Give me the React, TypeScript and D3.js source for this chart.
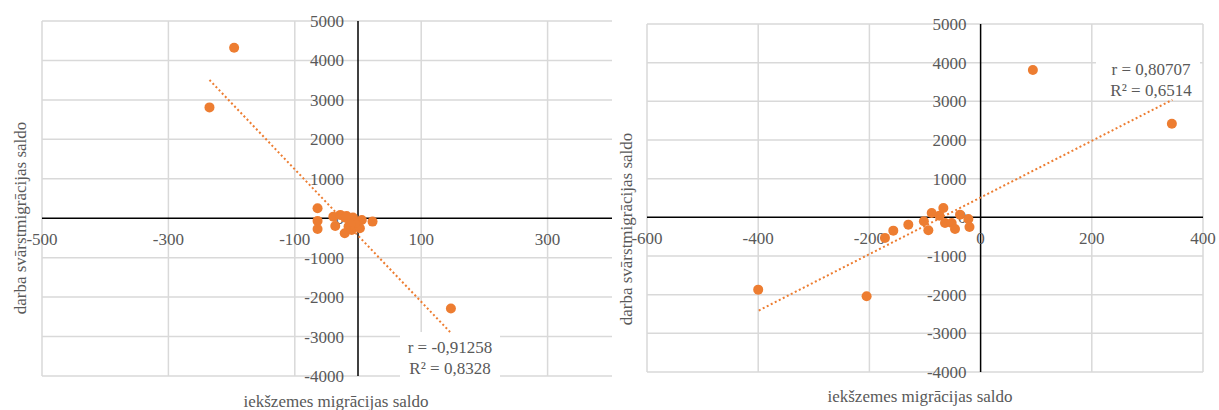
import * as d3 from 'd3';
import { useEffect, useRef } from 'react';

// kreisais grafiks
const leftX = [-196, -235, 147, -64, -64, -64, -39, -36, -28, -18, -13, -15, -21, -10, 6, 3, 23, -8, -5, -12, -20];
const leftY = [4320, 2810, -2290, 253, -68, -271, 40, -195, 84, 58, -43, -213, -380, -296, -43, -253, -86, 20, -120, -150, 10];
const leftTrendX = [-235, 146];
const leftTrendY = [3505, -2890];
const leftXTicks = [-500, -300, -100, 100, 300, 500];
const leftLabels = ['r = -0,91258', 'R² = 0,8328'];

// labais grafiks
const rightX = [94, 344, -400, -205, -172, -157, -130, -102, -94, -88, -74, -67, -64, -52, -46, -37, -22, -20];
const rightY = [3810, 2420, -1870, -2040, -532, -344, -189, -103, -336, 114, 44, 243, -145, -145, -300, 70, -41, -248];
const rightTrendX = [-399, 345];
const rightTrendY = [-2410, 3040];
const rightXTicks = [-600, -400, -200, 0, 200, 400];
const rightLabels = ['r = 0,80707', 'R² = 0,6514'];

const yTicks = [5000, 4000, 3000, 2000, 1000, 0, -1000, -2000, -3000, -4000];

const xTitle = 'iekšzemes migrācijas saldo';
const yTitle = 'darba svārstmigrācijas saldo';

const orange = '#ED7D31';
const grey = '#595959';
const font = '"Liberation Serif", "Times New Roman", serif';

function App() {
    const ref = useRef(null);

    useEffect(() => {
        document.body.style.margin = '0';
        const svg = d3.select(ref.current);
        svg.selectAll('*').remove();

        const clip = svg.append('defs').append('clipPath').attr('id', 'leftClip');
        clip.append('rect').attr('x', 0).attr('y', 0).attr('width', 612).attr('height', 410);

        function drawChart(g, cfg) {
            const x = d3.scaleLinear().domain(cfg.xDomain).range(cfg.xRange);
            const y = d3.scaleLinear().domain([5000, -4000]).range(cfg.yRange);
            const [x0, x1] = cfg.xRange;
            const [y0, y1] = cfg.yRange;

            // režģis
            g.selectAll('.hgrid').data(yTicks.filter(d => d !== 0)).join('line')
                .attr('x1', x0).attr('x2', x1)
                .attr('y1', d => y(d)).attr('y2', d => y(d))
                .attr('stroke', '#d9d9d9').attr('stroke-width', 1.5);
            g.selectAll('.vgrid').data(cfg.xTicks.filter(d => d !== 0)).join('line')
                .attr('x1', d => x(d)).attr('x2', d => x(d))
                .attr('y1', y0).attr('y2', y1)
                .attr('stroke', '#d9d9d9').attr('stroke-width', 1.5);

            // anotācijas fons
            g.append('rect')
                .attr('x', cfg.box[0]).attr('y', cfg.box[1])
                .attr('width', cfg.box[2]).attr('height', cfg.box[3])
                .attr('fill', 'white');

            // asis
            g.append('line').attr('x1', x0).attr('x2', x1)
                .attr('y1', y(0)).attr('y2', y(0))
                .attr('stroke', 'black').attr('stroke-width', 1.5);
            g.append('line').attr('x1', x(0)).attr('x2', x(0))
                .attr('y1', y0).attr('y2', y1)
                .attr('stroke', 'black').attr('stroke-width', 1.5);

            // ass skaitļi
            g.selectAll('.ylab').data(yTicks).join('text')
                .attr('x', x(0) - 14).attr('y', d => y(d) + 6)
                .attr('text-anchor', 'end')
                .attr('font-family', font).attr('font-size', 17).attr('fill', grey)
                .text(d => d);
            g.selectAll('.xlab').data(cfg.xTicks).join('text')
                .attr('x', d => x(d)).attr('y', y(0) + 27)
                .attr('text-anchor', 'middle')
                .attr('font-family', font).attr('font-size', 17).attr('fill', grey)
                .text(d => d);

            // punkti
            g.selectAll('circle').data(cfg.xs.map((v, i) => [v, cfg.ys[i]])).join('circle')
                .attr('cx', d => x(d[0])).attr('cy', d => y(d[1]))
                .attr('r', 5).attr('fill', orange);

            // tendences līnija
            g.append('path')
                .datum(cfg.tx.map((v, i) => [v, cfg.ty[i]]))
                .attr('d', d3.line().x(d => x(d[0])).y(d => y(d[1])))
                .attr('fill', 'none').attr('stroke', orange)
                .attr('stroke-width', 2).attr('stroke-dasharray', '2,2.5');

            // r un R²
            g.selectAll('.ann').data(cfg.labels).join('text')
                .attr('x', cfg.labelPos[0]).attr('y', (d, i) => cfg.labelPos[1] + i * 21)
                .attr('text-anchor', 'middle')
                .attr('font-family', font).attr('font-size', 17).attr('fill', grey)
                .text(d => d);

            // nosaukumi
            g.append('text')
                .attr('x', cfg.xTitlePos[0]).attr('y', cfg.xTitlePos[1])
                .attr('text-anchor', 'middle')
                .attr('font-family', font).attr('font-size', 17).attr('fill', grey)
                .text(xTitle);
            g.append('text')
                .attr('transform', `translate(${cfg.yTitlePos[0]},${cfg.yTitlePos[1]}) rotate(-90)`)
                .attr('text-anchor', 'middle')
                .attr('font-family', font).attr('font-size', 17).attr('fill', grey)
                .text(yTitle);
        }

        drawChart(svg.append('g').attr('clip-path', 'url(#leftClip)'), {
            xDomain: [-500, 500], xRange: [42, 674], yRange: [21, 376],
            xTicks: leftXTicks, xs: leftX, ys: leftY, tx: leftTrendX, ty: leftTrendY,
            labels: leftLabels, labelPos: [450, 353], box: [400, 332, 100, 46],
            xTitlePos: [336, 407], yTitlePos: [26, 218]
        });

        drawChart(svg.append('g'), {
            xDomain: [-600, 400], xRange: [647, 1203], yRange: [24, 372],
            xTicks: rightXTicks, xs: rightX, ys: rightY, tx: rightTrendX, ty: rightTrendY,
            labels: rightLabels, labelPos: [1151, 75], box: [1096, 55, 104, 42],
            xTitlePos: [920, 402], yTitlePos: [632, 229]
        });
    }, []);

    return <svg ref={ref} width={1219} height={410} style={{ display: 'block', background: 'white' }} />;
}

export default App;
